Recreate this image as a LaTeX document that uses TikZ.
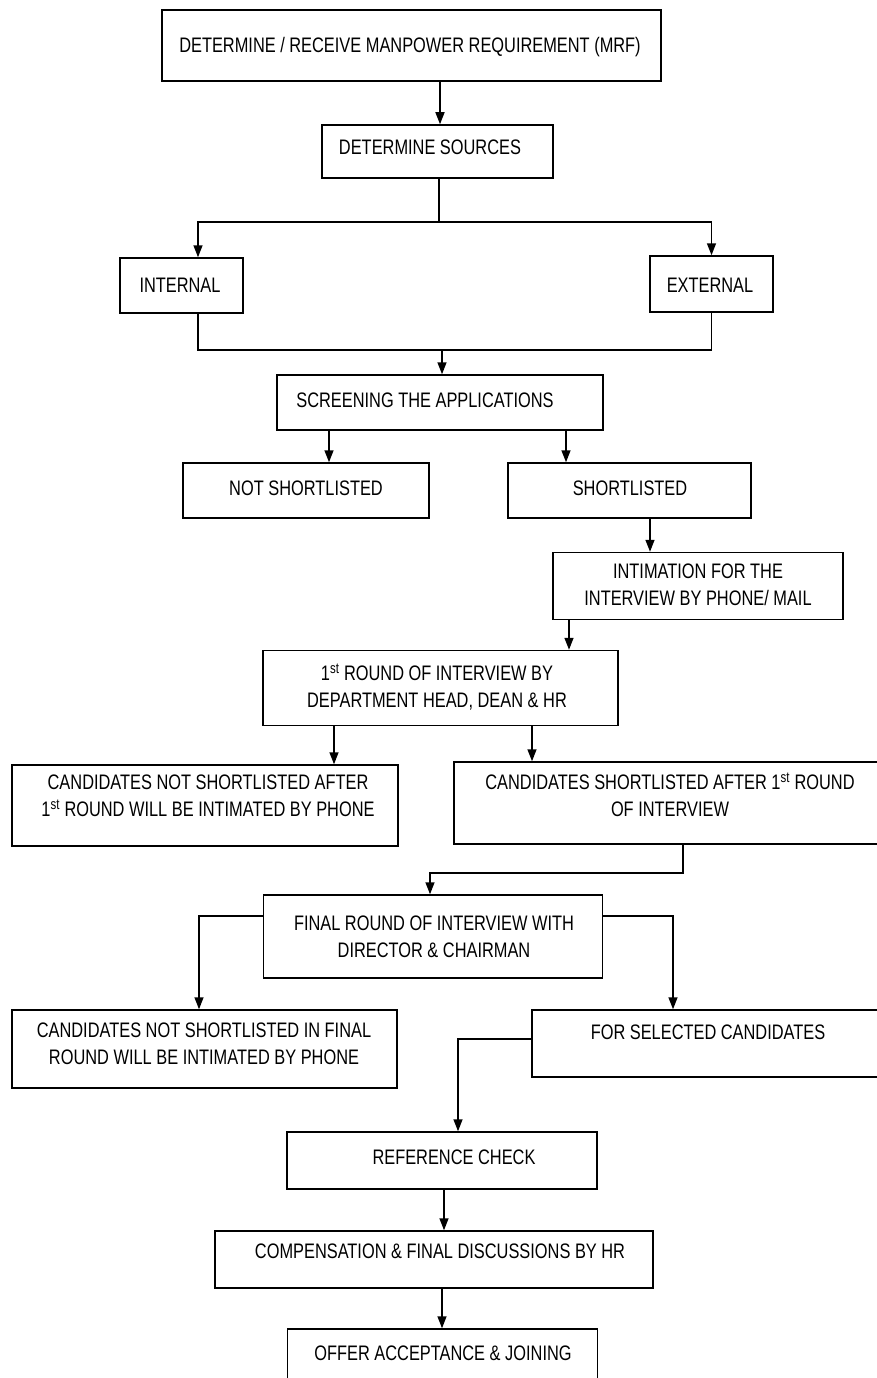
\documentclass[tikz,border=0pt]{standalone}
\usepackage{fontspec}
\setmainfont{Liberation Sans}[FakeStretch=0.78]
\usetikzlibrary{arrows.meta}

\tikzset{
  box/.style={draw, line width=1.5pt, rectangle, inner sep=0pt},
  txt/.style={align=center, inner sep=0pt, font=\fontsize{21}{27}\selectfont},
  arr/.style={line width=1.5pt, -{Triangle[length=12pt,width=9pt]}},
  lin/.style={line width=1.5pt}
}

\begin{document}
\begin{tikzpicture}[x=1pt, y=-1pt]
	\useasboundingbox (0,0) rectangle (876,1378);

	% boxes
	\node[box, minimum width=499, minimum height=71] (mrf) at (411.5,45.5) {};
	\node[box, minimum width=231, minimum height=53] (src) at (437.5,151.5) {};
	\node[box, minimum width=123, minimum height=55] (int) at (181.5,285.5) {};
	\node[box, minimum width=123, minimum height=56] (ext) at (711.5,284) {};
	\node[box, minimum width=326, minimum height=55] (scr) at (440,402.5) {};
	\node[box, minimum width=246, minimum height=55] (ns) at (306,490.5) {};
	\node[box, minimum width=243, minimum height=55] (sl) at (629.5,490.5) {};
	\node[box, minimum width=290, minimum height=67] (intim) at (698,586) {};
	\node[box, minimum width=355, minimum height=75] (r1) at (440.5,688) {};
	\node[box, minimum width=386, minimum height=81] (cnsa) at (205,805.5) {};
	\node[box, minimum width=432, minimum height=82] (csa) at (670,803) {};
	\node[box, minimum width=339, minimum height=83] (fin) at (433,936.5) {};
	\node[box, minimum width=385, minimum height=78] (cnsf) at (204.5,1049) {};
	\node[box, minimum width=352, minimum height=67] (fsel) at (708,1043.5) {};
	\node[box, minimum width=310, minimum height=57] (ref) at (442,1160.5) {};
	\node[box, minimum width=438, minimum height=57] (comp) at (434,1259.5) {};
	\node[box, minimum width=310, minimum height=57] (offer) at (442.5,1357.5) {};

	% texts
	\node[txt] (mrf-t) at (410,47) {DETERMINE / RECEIVE MANPOWER REQUIREMENT (MRF)};
	\node[txt] (src-t) at (430,147) {DETERMINE SOURCES};
	\node[txt] (int-t) at (180,285) {INTERNAL};
	\node[txt] (ext-t) at (710,285) {EXTERNAL};
	\node[txt] (scr-t) at (425,400) {SCREENING THE APPLICATIONS};
	\node[txt] (ns-t) at (306,488) {NOT SHORTLISTED};
	\node[txt] (sl-t) at (630,488) {SHORTLISTED};
	\node[txt] (intim-t) at (698,585) {INTIMATION FOR THE\\INTERVIEW BY PHONE/ MAIL};
	\node[txt] (r1-t) at (437,687) {1\textsuperscript{st} ROUND OF INTERVIEW BY\\DEPARTMENT HEAD, DEAN \& HR};
	\node[txt] (cnsa-t) at (208,796) {CANDIDATES NOT SHORTLISTED AFTER\\1\textsuperscript{st} ROUND WILL BE INTIMATED BY PHONE};
	\node[txt] (csa-t) at (670,795) {CANDIDATES SHORTLISTED AFTER 1\textsuperscript{st} ROUND\\OF INTERVIEW};
	\node[txt] (fin-t) at (434,937) {FINAL ROUND OF INTERVIEW WITH\\DIRECTOR \& CHAIRMAN};
	\node[txt] (cnsf-t) at (204,1044) {CANDIDATES NOT SHORTLISTED IN FINAL\\ROUND WILL BE INTIMATED BY PHONE};
	\node[txt] (fsel-t) at (708,1032) {FOR SELECTED CANDIDATES};
	\node[txt] (ref-t) at (454,1157) {REFERENCE CHECK};
	\node[txt] (comp-t) at (440,1251) {COMPENSATION \& FINAL DISCUSSIONS BY HR};
	\node[txt] (offer-t) at (443,1353) {OFFER ACCEPTANCE \& JOINING};

	% connectors
	\coordinate (split) at (439,222);
	\coordinate (merge) at (442,350);

	\draw[arr] (mrf.south -| 440,0) -- (src.north -| 440,0);
	\draw[lin] (src.south -| split) -- (split);
	\draw[arr] (split) -| (int.north -| 198,0);
	\draw[arr] (split) -| (ext.north);
	\draw[lin] (int.south -| 198,0) |- (merge) -| (ext.south);
	\draw[arr] (merge) -- (scr.north -| merge);

	\draw[arr] (scr.south -| 329,0) -- (ns.north -| 329,0);
	\draw[arr] (scr.south -| 566,0) -- (sl.north -| 566,0);
	\draw[arr] (sl.south -| 650,0) -- (intim.north -| 650,0);
	\draw[arr] (intim.south -| 569,0) -- (r1.north -| 569,0);
	\draw[arr] (r1.south -| 334,0) -- (cnsa.north -| 334,0);
	\draw[arr] (r1.south -| 532,0) -- (csa.north -| 532,0);

	\draw[arr] (csa.south -| 683,0) -- ++(0,28) -| (fin.north -| 430,0);
	\draw[arr] (fin.west |- 0,916) -| (cnsf.north -| 199,0);
	\draw[arr] (fin.east |- 0,916) -| (fsel.north -| 673,0);
	\draw[arr] (fsel.west |- 0,1039) -| (ref.north -| 458,0);
	\draw[arr] (ref.south -| 444,0) -- (comp.north -| 444,0);
	\draw[arr] (comp.south -| 442,0) -- (offer.north -| 442,0);
\end{tikzpicture}
\end{document}
